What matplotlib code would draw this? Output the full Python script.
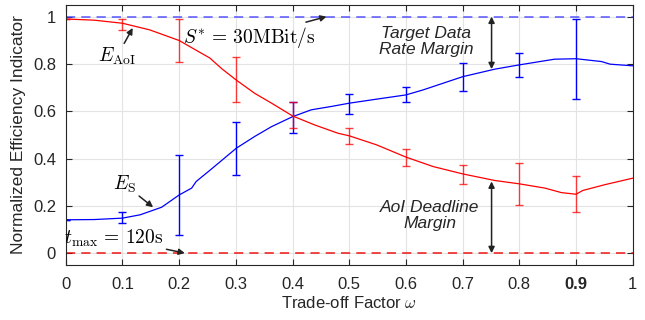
import matplotlib
matplotlib.use('Agg')
import matplotlib.pyplot as plt

plt.rcParams['font.family'] = ['Liberation Sans', 'DejaVu Sans']
plt.rcParams['mathtext.fontset'] = 'cm'

# E_AoI curve (red)
x_aoi = [0, 0.05, 0.1, 0.148, 0.2, 0.224, 0.254, 0.275, 0.3, 0.333, 0.363, 0.4,
         0.439, 0.48, 0.5, 0.548, 0.6, 0.648, 0.7, 0.757, 0.8, 0.845, 0.874,
         0.9, 0.912, 0.95, 1.0]
y_aoi = [0.99, 0.985, 0.972, 0.944, 0.899, 0.866, 0.825, 0.78, 0.733, 0.676,
         0.634, 0.58, 0.542, 0.507, 0.496, 0.458, 0.406, 0.366, 0.335, 0.307,
         0.293, 0.275, 0.256, 0.249, 0.265, 0.289, 0.317]

# E_S curve (blue)
x_s = [0, 0.05, 0.1, 0.131, 0.169, 0.2, 0.222, 0.23, 0.254, 0.301, 0.333,
       0.363, 0.4, 0.433, 0.468, 0.5, 0.548, 0.6, 0.63, 0.7, 0.757, 0.8,
       0.862, 0.9, 0.945, 0.96, 1.0]
y_s = [0.141, 0.142, 0.148, 0.162, 0.194, 0.246, 0.275, 0.303, 0.35, 0.444,
       0.493, 0.535, 0.577, 0.606, 0.62, 0.634, 0.651, 0.669, 0.69, 0.746,
       0.778, 0.796, 0.82, 0.822, 0.81, 0.799, 0.792]

# error bars
x_err = [0, 0.1, 0.2, 0.3, 0.4, 0.5, 0.6, 0.7, 0.8, 0.9]
aoi_mid = [0.99, 0.972, 0.899, 0.733, 0.58, 0.496, 0.406, 0.335, 0.293, 0.249]
aoi_lo = [0.99, 0.944, 0.808, 0.637, 0.530, 0.462, 0.369, 0.293, 0.204, 0.172]
aoi_hi = [0.99, 0.989, 0.989, 0.831, 0.637, 0.527, 0.441, 0.374, 0.380, 0.327]
s_mid = [0.141, 0.148, 0.246, 0.444, 0.577, 0.634, 0.669, 0.746, 0.796, 0.822]
s_lo = [0.141, 0.128, 0.077, 0.33, 0.507, 0.589, 0.637, 0.687, 0.744, 0.653]
s_hi = [0.141, 0.173, 0.415, 0.554, 0.637, 0.673, 0.702, 0.803, 0.845, 0.989]

xticks = [0, 0.1, 0.2, 0.3, 0.4, 0.5, 0.6, 0.7, 0.8, 0.9, 1]
xticklabels = ['0', '0.1', '0.2', '0.3', '0.4', '0.5', '0.6', '0.7', '0.8', '0.9', '1']
yticks = [0, 0.2, 0.4, 0.6, 0.8, 1]
yticklabels = ['0', '0.2', '0.4', '0.6', '0.8', '1']

fig = plt.figure(figsize=(6.45, 3.2), dpi=100)
ax = fig.add_axes([0.102, 0.172, 0.879, 0.813])

ax.plot([0, 1], [1, 1], color='#3a3aff', lw=1.1, dashes=(6, 4), alpha=0.85)
ax.plot([0, 1], [0, 0], color='#ee0000', lw=1.1, dashes=(6, 4), alpha=0.9)

ax.plot(x_s, y_s, color='#0000ff', lw=0.9)
ax.errorbar(x_err, s_mid,
            yerr=[[m - l for m, l in zip(s_mid, s_lo)],
                  [h - m for m, h in zip(s_mid, s_hi)]],
            fmt='none', ecolor='#0000ff', elinewidth=1.0, capsize=3, capthick=1.0)
ax.plot(x_aoi, y_aoi, color='#ff0000', lw=0.9)
ax.errorbar(x_err, aoi_mid,
            yerr=[[m - l for m, l in zip(aoi_mid, aoi_lo)],
                  [h - m for m, h in zip(aoi_mid, aoi_hi)]],
            fmt='none', ecolor='#ff0000', elinewidth=1.0, capsize=3, capthick=1.0,
            alpha=0.75)

ax.set_xlim(0, 1)
ax.set_ylim(-0.05, 1.05)
ax.set_xticks(xticks)
ax.set_xticklabels(xticklabels)
ax.set_yticks(yticks)
ax.set_yticklabels(yticklabels)
ax.get_xticklabels()[9].set_fontweight('bold')
ax.tick_params(direction='in', length=4, width=0.8, top=True, right=True,
               labelsize=12, colors='#262626')
ax.tick_params(axis='x', pad=9)
ax.tick_params(axis='y', pad=7)
ax.grid(True, color='#e3e3e3', lw=0.8)
ax.set_axisbelow(True)
for sp in ax.spines.values():
    sp.set_color('#262626')
    sp.set_linewidth(0.8)

ax.set_xlabel(r'Trade-off Factor $\omega$', fontsize=12, color='#262626', labelpad=2)
ax.set_ylabel('Normalized Efficiency Indicator', fontsize=12.5, color='#262626',
              labelpad=5)

arrow = dict(arrowstyle='-|>', color='#222222', lw=1.1, mutation_scale=9,
             shrinkA=0, shrinkB=0)
ax.annotate(r'$E_{\mathrm{AoI}}$', xy=(0.118, 0.952), xytext=(0.09, 0.83),
            fontsize=14, ha='center', va='center', arrowprops=arrow)
ax.annotate(r'$S^{*}\,=\,30\mathrm{MBit/s}$', xy=(0.46, 1.0), xytext=(0.323, 0.912),
            fontsize=14, ha='center', va='center', arrowprops=arrow)
ax.annotate(r'$E_{\mathrm{S}}$', xy=(0.154, 0.194), xytext=(0.104, 0.29),
            fontsize=14, ha='center', va='center', arrowprops=arrow)
ax.annotate(r'$t_{\max}\,=\,120\mathrm{s}$', xy=(0.21, 0.0), xytext=(0.085, 0.063),
            fontsize=14, ha='center', va='center', arrowprops=arrow)

dbl = dict(arrowstyle='<|-|>', color='#222222', lw=1.1, mutation_scale=9,
           shrinkA=0, shrinkB=0)
ax.annotate('', xy=(0.751, 1.0), xytext=(0.751, 0.778), arrowprops=dbl)
ax.annotate('', xy=(0.751, 0.0), xytext=(0.751, 0.303), arrowprops=dbl)
ax.text(0.636, 0.894, 'Target Data\nRate Margin', style='italic', fontsize=12.5,
        ha='center', va='center', color='#262626', linespacing=1.05)
ax.text(0.642, 0.158, 'AoI Deadline\nMargin', style='italic', fontsize=12.5,
        ha='center', va='center', color='#262626', linespacing=1.05)

fig.savefig('out.png', dpi=100)
